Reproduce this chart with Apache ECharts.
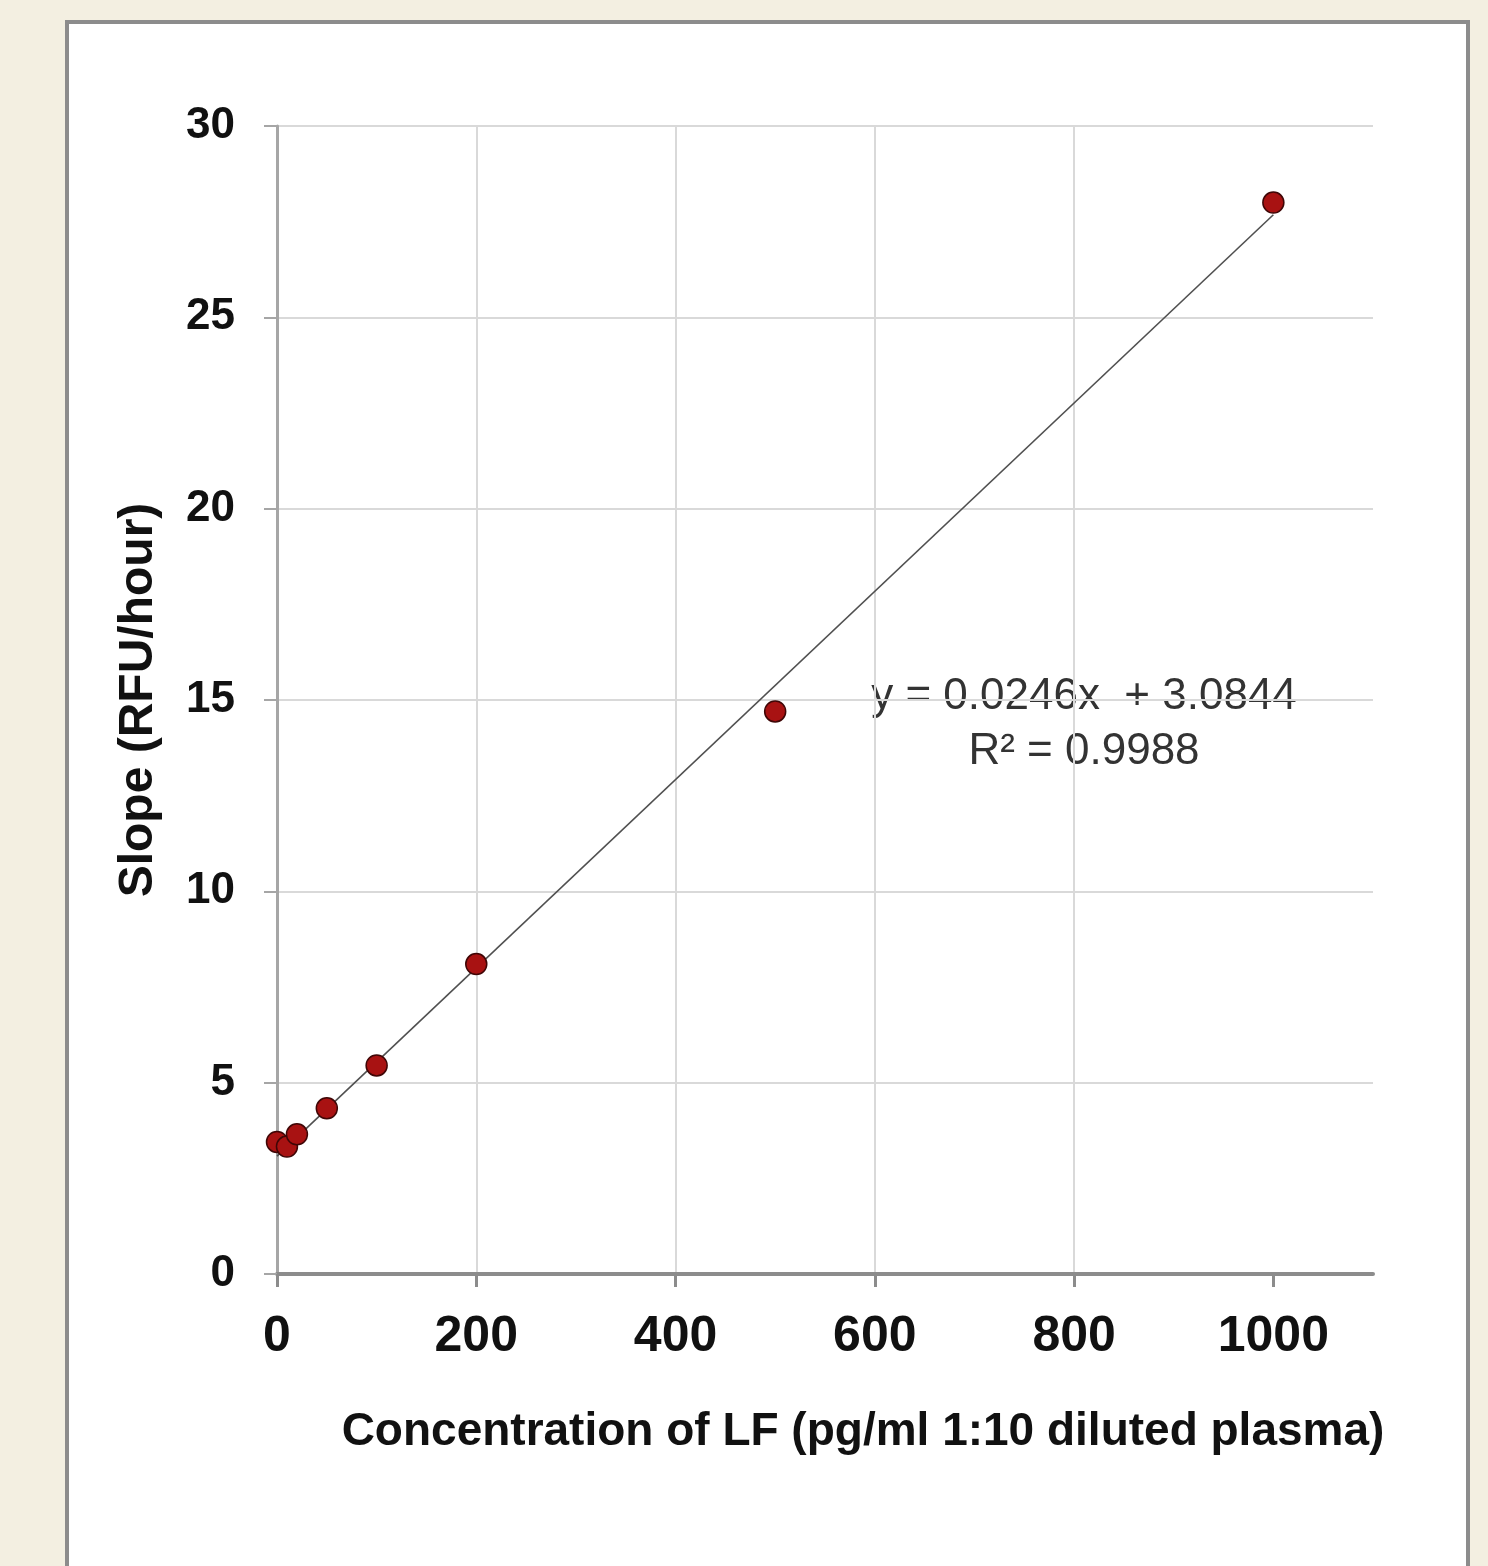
<!DOCTYPE html>
<html>
<head>
<meta charset="utf-8">
<script src="https://cdn.jsdelivr.net/npm/echarts@6/dist/echarts.min.js"></script>
<style>
  html, body { margin: 0; padding: 0; background: #f3efe1; }
  #panel { position: absolute; left: 65px; top: 20px; width: 1397px; height: 1600px;
           background: #fff; border: 4px solid #8c8c8c; }
  #chart { position: absolute; left: 0; top: 0; width: 1488px; height: 1566px; }
</style>
</head>
<body>
<div id="panel"></div>
<div id="chart"></div>
<script>
// 数据
const concentration = [0, 10, 20, 50, 100, 200, 500, 1000];
const slope = [3.45, 3.33, 3.65, 4.33, 5.45, 8.1, 14.7, 28.0];
// 趋势线两端
const trendX = [0, 1000];
const trendY = [3.08, 27.68];
const xTicks = [0, 200, 400, 600, 800, 1000];
const equationText = 'y = 0.0246x  + 3.0844';
const r2Text = 'R² = 0.9988';

const chart = echarts.init(document.getElementById('chart'));
const font = '"Liberation Sans", Arial, sans-serif';

let options = {
  backgroundColor: 'transparent',
  animation: false,
  grid: { left: 277, right: 115, top: 126, bottom: 292, containLabel: false },
  xAxis: {
    type: 'value',
    min: 0,
    max: 1100,
    interval: 200,
    name: 'Concentration of LF (pg/ml 1:10 diluted plasma)',
    nameLocation: 'middle',
    nameGap: 135,
    nameTextStyle: { fontFamily: font, fontWeight: 'bold', fontSize: 46, color: '#111', padding: [0, 0, 0, 76] },
    axisLine: { lineStyle: { color: '#8c8c8c', width: 4 } },
    axisTick: { show: true, length: 13, customValues: xTicks, lineStyle: { color: '#8c8c8c', width: 3 } },
    axisLabel: {
      customValues: xTicks, margin: 38, fontFamily: font, fontWeight: 'bold', fontSize: 50, color: '#111',
      formatter: (v) => String(v)
    },
    splitLine: { show: true, showMaxLine: false, lineStyle: { color: '#d9d9d9', width: 2 } }
  },
  yAxis: {
    type: 'value',
    min: 0,
    max: 30,
    interval: 5,
    name: 'Slope (RFU/hour)',
    nameLocation: 'middle',
    nameGap: 114,
    nameTextStyle: { fontFamily: font, fontWeight: 'bold', fontSize: 48, color: '#111' },
    axisLine: { show: true, lineStyle: { color: '#a6a6a6', width: 3 } },
    axisTick: { show: true, length: 13, lineStyle: { color: '#a6a6a6', width: 2 } },
    axisLabel: { margin: 42, fontFamily: font, fontWeight: 'bold', fontSize: 44, color: '#111' },
    splitLine: { show: true, lineStyle: { color: '#d9d9d9', width: 2 } }
  },
  graphic: [
    {
      type: 'text',
      x: 1084,
      y: 697,
      style: { text: equationText, fontFamily: font, fontSize: 44, fill: '#333',
               align: 'center', verticalAlign: 'middle' }
    },
    {
      type: 'text',
      x: 1084,
      y: 752,
      style: { text: r2Text, fontFamily: font, fontSize: 44, fill: '#333',
               align: 'center', verticalAlign: 'middle' }
    }
  ],
  series: [
    {
      name: 'trend',
      type: 'line',
      data: trendX.map((x, i) => [x, trendY[i]]),
      symbol: 'none',
      lineStyle: { color: '#505050', width: 1.6 },
      z: 2
    },
    {
      name: 'slope',
      type: 'scatter',
      data: concentration.map((x, i) => [x, slope[i]]),
      symbolSize: 21,
      itemStyle: { color: '#a81212', borderColor: '#3f0606', borderWidth: 1.5, opacity: 1 },
      z: 3
    }
  ]
};
chart.setOption(options);
</script>
</body>
</html>
